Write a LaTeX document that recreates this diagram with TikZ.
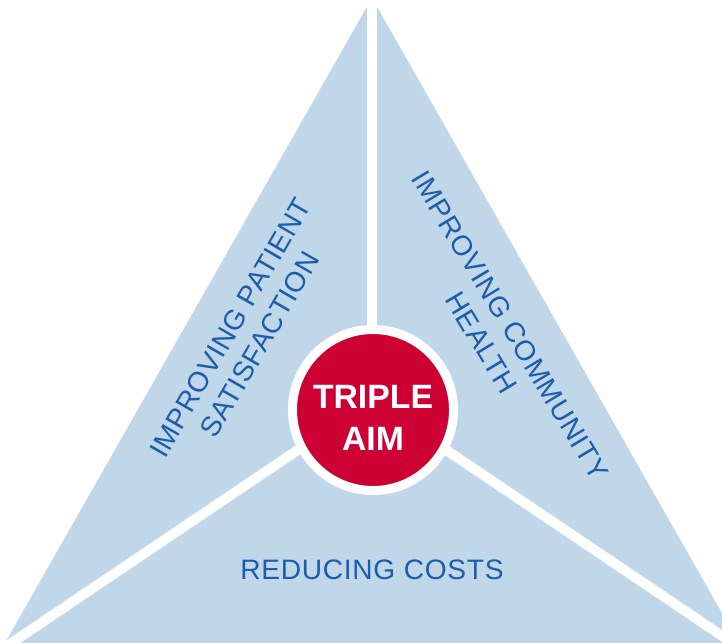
\documentclass[tikz,border=0pt]{standalone}
\usepackage{fontspec}
\setmainfont{Liberation Sans}
\newfontfamily\aimfont[LetterSpace=2.5]{Liberation Sans}
\usetikzlibrary{positioning}
\definecolor{paleblue}{RGB}{192,215,233}
\definecolor{aimred}{RGB}{204,0,51}
\definecolor{labelblue}{RGB}{27,92,171}
\tikzset{
	aimlabel/.style={text=labelblue, align=center, inner sep=0pt, font=\aimfont\fontsize{20}{24}\selectfont},
	spoke/.style={white, line width=7pt},
}
\begin{document}
\begin{tikzpicture}[x=0.025cm,y=-0.025cm]
		\useasboundingbox (0,0) rectangle (722,643);
		\begin{scope}
		\clip (0,0) rectangle (722,643);
		\coordinate (apex) at (372,-2);
		\coordinate (left) at (1,650);
		\coordinate (right) at (743,650);
		\coordinate (hub) at (372,400);
		\coordinate (lend) at (-2,652);
		\coordinate (rend) at (746,652);
		\fill[paleblue] (apex) -- (left) -- (right) -- cycle;
		\foreach \c in {apex,lend,rend}{
		\draw[spoke] (hub) -- (\c);
		}
		\end{scope}
	
		\node[circle, fill=aimred, draw=white, line width=6.4pt, minimum size=4.025cm] (aim) at (373,410) {};
		\node[align=center, inner sep=0pt, text=white, font=\fontsize{24}{30}\selectfont\bfseries] (aimtext) at (373,418) {TRIPLE\\AIM};
	
		\node[aimlabel, rotate=60] (patient) at (245,336) {IMPROVING PATIENT\\SATISFACTION};
		\node[aimlabel, rotate=-59] (community) at (496,334) {IMPROVING COMMUNITY\\HEALTH};
		\node[aimlabel] (costs) at (372,570) {REDUCING COSTS};
	\end{tikzpicture}
\end{document}
